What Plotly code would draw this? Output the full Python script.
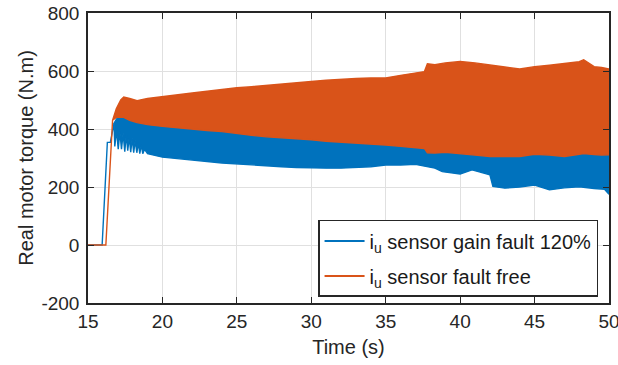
import plotly.graph_objects as go

# ---- data (envelopes of the oscillating torque) ----
t_fault = [15, 15.95, 16.3, 16.5, 16.75, 16.8, 16.92, 17.03, 17.14, 17.25, 17.36, 17.47, 17.57, 17.67, 17.77,
           17.87, 17.97, 18.07, 18.17, 18.28, 18.38, 18.48, 18.58, 18.68, 18.8, 19, 20, 21, 22, 23, 24, 25, 26,
           27, 28, 29, 30, 31, 32, 33, 34, 35, 36, 37, 37.8, 38.3, 38.8, 39.6, 40, 40.8, 41.5, 42.0, 42.2, 43,
           44, 45, 46, 47, 48, 49, 49.7, 50]
fault_lower = [0, 0, 354, 354, 420, 340, 395, 330, 390, 330, 385, 322, 380, 325, 372, 320, 368, 318, 360, 318,
               352, 315, 345, 315, 330, 315, 303, 298, 292, 288, 283, 279, 276,
               273, 270, 267, 265, 265, 265, 267, 270, 276, 276, 278, 271, 265, 253, 248, 245, 259, 250, 242, 202,
               196, 200, 207, 190, 197, 201, 195, 192, 175]
fault_upper = [0, 0, 354, 354, 420, 425, 435, 440, 442, 445, 445, 445, 444, 443, 442, 441, 440, 438, 436, 435,
               433, 432, 431, 430, 429, 428, 420, 415, 410, 405, 400, 395, 390,
               385, 380, 377, 373, 368, 363, 360, 358, 355, 350, 345, 340, 335, 330, 330, 325, 320, 318, 315, 315,
               315, 315, 320, 320, 315, 320, 320, 320, 320]

t_free = [15, 16.2, 16.65, 16.9, 17.2, 17.4, 17.8, 18.3, 19, 20, 21, 22, 23, 24, 25, 26, 27, 28, 29, 30,
          31, 32, 33, 34, 35, 36, 37, 37.6, 37.8, 38.3, 39, 40, 41, 42, 43, 44, 45, 46, 47, 48, 48.3, 49, 49.5, 50]
free_upper = [0, 0, 430, 470, 500, 510, 505, 498, 505, 512, 518, 524, 530, 537, 542, 546, 551, 556, 560, 564,
              568, 572, 574, 576, 576, 585, 592, 598, 625, 622, 628, 633, 628, 622, 614, 607, 615, 620, 625, 632,
              639, 615, 612, 607]
free_lower = [0, 0, 430, 440, 440, 440, 430, 422, 415, 409, 404, 399, 395, 391, 385, 378, 373, 369, 366, 363,
              358, 353, 350, 348, 345, 340, 335, 333, 318, 317, 320, 315, 310, 305, 305, 305, 313, 310, 305, 313,
              315, 312, 310, 311]

series_names = ["i<sub>u</sub> sensor gain fault 120%", "i<sub>u</sub> sensor fault free"]
x_ticks = [15, 20, 25, 30, 35, 40, 45, 50]
y_ticks = [-200, 0, 200, 400, 600, 800]

BLUE = "#0072BD"
ORANGE = "#D95319"
FONT = "Liberation Sans, Arial, sans-serif"
INK = "#262626"

fig = go.Figure()


def band(t, lo, hi, color):
    xs = list(t) + list(reversed(t))
    ys = list(hi) + list(reversed(lo))
    fig.add_trace(go.Scatter(x=xs, y=ys, mode="lines", fill="toself", fillcolor=color,
                             line=dict(color=color, width=1.4), showlegend=False, hoverinfo="skip"))


band(t_fault, fault_lower, fault_upper, BLUE)
band(t_free, free_lower, free_upper, ORANGE)

for i, (name, color) in enumerate(zip(series_names, [BLUE, ORANGE])):
    fig.add_trace(go.Scatter(x=[None], y=[None], mode="lines", name=name, legendgroup=f"g{i}",
                             line=dict(color=color, width=2)))

axis_common = dict(showline=True, linecolor=INK, linewidth=1.5, mirror="ticks",
                   ticks="inside", ticklen=6, tickwidth=1.2, tickcolor=INK,
                   showgrid=True, gridcolor="#e0e0e0", gridwidth=1, zeroline=False,
                   automargin=False, ticklabeloverflow="allow",
                   tickfont=dict(family=FONT, size=19, color=INK))

fig.update_xaxes(range=[15, 50], tickvals=x_ticks, ticktext=[str(v) for v in x_ticks],
                 title=dict(text="Time (s)", font=dict(family=FONT, size=20, color=INK), standoff=9),
                 **axis_common)
fig.update_yaxes(range=[-200, 800], tickvals=y_ticks, ticktext=[str(v) for v in y_ticks],
                 ticklabelstandoff=3,
                 title=dict(text="Real motor torque (N.m)", font=dict(family=FONT, size=20, color=INK),
                            standoff=2),
                 **axis_common)

fig.update_layout(
    width=618, height=365,
    margin=dict(l=88, r=9, t=13, b=62),
    paper_bgcolor="white", plot_bgcolor="white",
    font=dict(family=FONT, size=18, color=INK),
    legend=dict(x=0.979, y=0.021, xanchor="right", yanchor="bottom",
                bgcolor="white", bordercolor=INK, borderwidth=1.5,
                font=dict(family=FONT, size=20, color="#1a1a1a"),
                tracegroupgap=6, itemwidth=40),
)

fig.write_html("out.html", config={"displayModeBar": False},
               post_script="document.body.style.margin='0';")
